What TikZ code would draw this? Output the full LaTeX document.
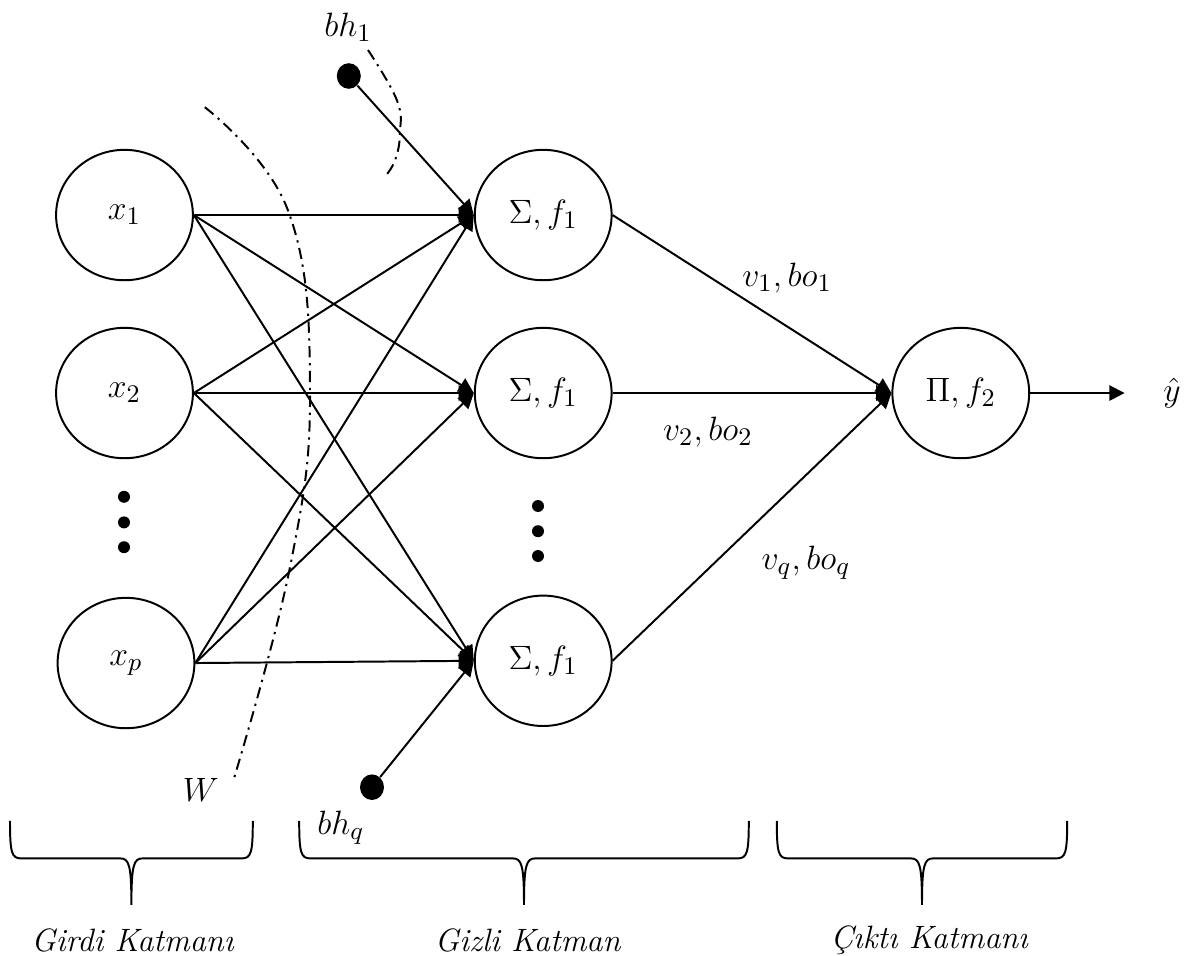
\documentclass[tikz,border=0pt]{standalone}
\usepackage{amsmath}
\usepackage{tikz}
\usetikzlibrary{arrows.meta,shapes.geometric}

% layer brace: left x, right x, top y
\newcommand{\layerbrace}[3]{%
  \pgfmathsetmacro{\bmid}{(#1+#2)/2}
  \draw[line width=0.7pt] (#1,#3) .. controls (#1,#3-0.40) and (#1+0.02,#3-0.47) .. (#1+0.14,#3-0.47)
    -- (\bmid-0.14,#3-0.47) .. controls (\bmid-0.03,#3-0.47) and (\bmid,#3-0.55) .. (\bmid,#3-1.05)
    .. controls (\bmid,#3-0.55) and (\bmid+0.03,#3-0.47) .. (\bmid+0.14,#3-0.47)
    -- (#2-0.14,#3-0.47) .. controls (#2-0.02,#3-0.47) and (#2,#3-0.40) .. (#2,#3);
}

\begin{document}
\begin{tikzpicture}[
  neuron/.style={draw, ellipse, line width=0.7pt, minimum width=1.71cm, minimum height=1.63cm, inner sep=0pt, font=\fontsize{12.8}{15}\selectfont},
  bias/.style={ellipse, fill, minimum width=0.3cm, minimum height=0.32cm, inner sep=0pt},
  vdot/.style={circle, fill, minimum size=0.15cm, inner sep=0pt},
  lbl/.style={font=\fontsize{11.5}{14}\selectfont},
  mlbl/.style={font=\fontsize{12.8}{15}\selectfont},
  wire/.style={line width=0.7pt},
  dashdot/.style={line width=0.7pt, dash pattern=on 4pt off 2pt on 0.8pt off 2pt}
]
\useasboundingbox (0,0) rectangle (14.825,-11.95);

\node[neuron] (x1) at (1.556,-2.688) {$x_1$};
\node[neuron] (x2) at (1.556,-4.913) {$x_2$};
\node[neuron] (xp) at (1.575,-8.288) {$x_p$};
\node[vdot] (xd1) at (1.55,-6.21) {};
\node[vdot] (xd2) at (1.55,-6.53) {};
\node[vdot] (xd3) at (1.55,-6.84) {};

\node[neuron] (h1) at (6.79,-2.688) {$\Sigma, f_1$};
\node[neuron] (h2) at (6.79,-4.913) {$\Sigma, f_1$};
\node[neuron] (hq) at (6.79,-8.26) {$\Sigma, f_1$};
\node[vdot] (hd1) at (6.725,-6.325) {};
\node[vdot] (hd2) at (6.725,-6.64) {};
\node[vdot] (hd3) at (6.725,-6.95) {};

\node[neuron] (out) at (12.01,-4.913) {$\Pi, f_2$};
\node[mlbl] (yhat) at (14.65,-4.913) {$\hat{y}$};

\node[bias] (bh1) at (4.36,-0.95) {};
\node[mlbl] (bh1lbl) at (4.35,-0.34) {$bh_1$};
\node[bias] (bhq) at (4.65,-9.84) {};
\node[mlbl] (bhqlbl) at (4.26,-10.35) {$bh_q$};
\node[mlbl] (wlbl) at (2.51,-9.87) {$W$};

\node[mlbl] (v1lbl) at (9.84,-3.475) {$v_1, bo_1$};
\node[mlbl] (v2lbl) at (8.85,-5.4) {$v_2, bo_2$};
\node[mlbl] (vqlbl) at (10.075,-7.04) {$v_q, bo_q$};

\draw[wire, -{Triangle[length=1.9mm, width=1.9mm]}] (x1.east) -- (h1.west);
\draw[wire, -{Triangle[length=1.9mm, width=1.9mm]}] (x1.east) -- (h2.west);
\draw[wire, -{Triangle[length=1.9mm, width=1.9mm]}] (x1.east) -- (hq.west);
\draw[wire, -{Triangle[length=1.9mm, width=1.9mm]}] (x2.east) -- (h1.west);
\draw[wire, -{Triangle[length=1.9mm, width=1.9mm]}] (x2.east) -- (h2.west);
\draw[wire, -{Triangle[length=1.9mm, width=1.9mm]}] (x2.east) -- (hq.west);
\draw[wire, -{Triangle[length=1.9mm, width=1.9mm]}] (xp.east) -- (h1.west);
\draw[wire, -{Triangle[length=1.9mm, width=1.9mm]}] (xp.east) -- (h2.west);
\draw[wire, -{Triangle[length=1.9mm, width=1.9mm]}] (xp.east) -- (hq.west);
\draw[wire, -{Triangle[length=1.9mm, width=1.9mm]}] (bh1) -- (h1.west);
\draw[wire, -{Triangle[length=1.9mm, width=1.9mm]}] (bhq) -- (hq.west);

\draw[wire, -{Triangle[length=1.9mm, width=1.9mm]}] (h1.east) -- (out.west);
\draw[wire, -{Triangle[length=1.9mm, width=1.9mm]}] (h2.east) -- (out.west);
\draw[wire, -{Triangle[length=1.9mm, width=1.9mm]}] (hq.east) -- (out.west);
\draw[wire, -{Triangle[length=1.9mm, width=1.9mm]}, shorten >=0.36cm] (out.east) -- (yhat.west);

% weight and bias marks
\draw[dashdot] plot[smooth, tension=0.7] coordinates {(2.56,-1.34) (3.6,-2.63) (3.875,-4.875) (3.625,-7.09) (2.91,-9.78)};
\draw[dashdot] plot[smooth, tension=0.7] coordinates {(4.6,-0.625) (4.96,-1.25) (5.0,-1.66) (4.94,-2.0) (4.81,-2.21)};

\layerbrace{0.125}{3.16}{-10.26}
\layerbrace{3.74}{9.36}{-10.26}
\layerbrace{9.71}{13.34}{-10.26}
\node[lbl] (girdi) at (1.66,-11.75) {\textit{Girdi Katmanı}};
\node[lbl] (gizli) at (6.6,-11.75) {\textit{Gizli Katman}};
\node[lbl] (cikti) at (11.62,-11.75) {\textit{Çıktı Katmanı}};

\end{tikzpicture}
\end{document}
